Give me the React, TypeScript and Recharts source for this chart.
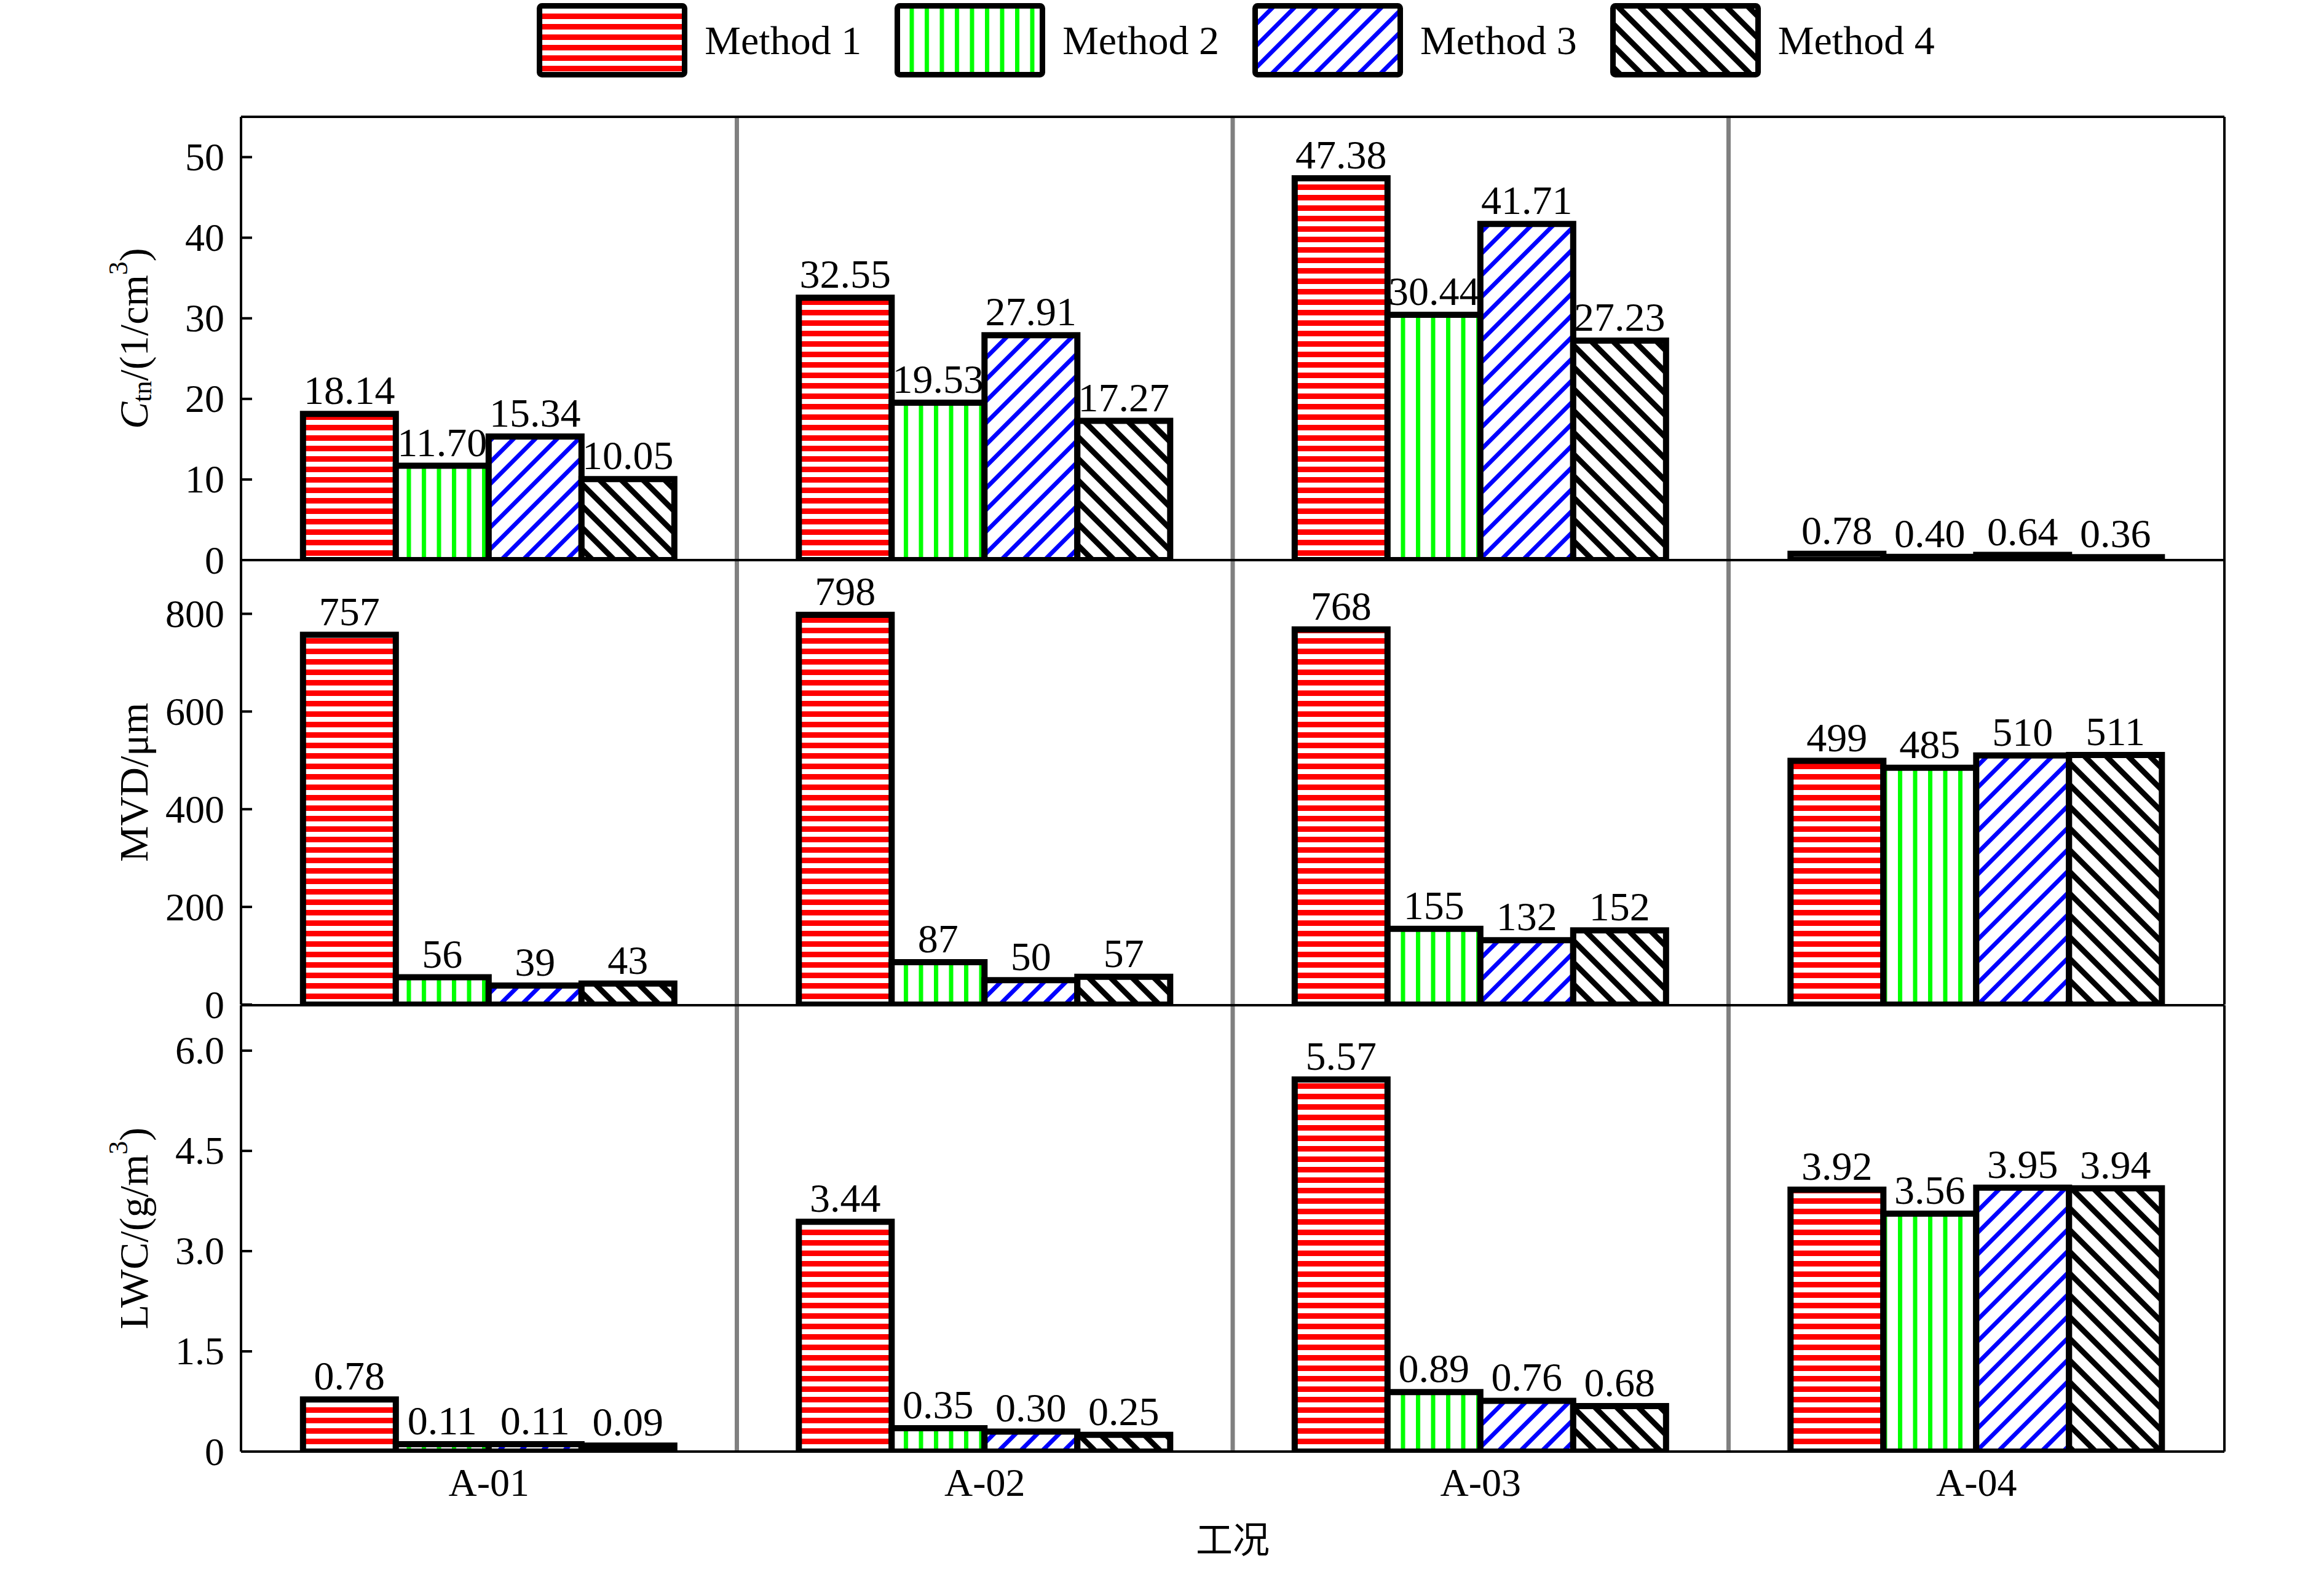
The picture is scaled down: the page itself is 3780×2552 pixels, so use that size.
import React from "react";
import { BarChart, Bar, XAxis, YAxis, CartesianGrid, LabelList, ReferenceLine } from "recharts";

const categories = ["A-01", "A-02", "A-03", "A-04"];
const methodNames = ["Method 1", "Method 2", "Method 3", "Method 4"];

// C_tn (1/cm^3)
const ctnMethod1 = [18.14, 32.55, 47.38, 0.78];
const ctnMethod2 = [11.7, 19.53, 30.44, 0.4];
const ctnMethod3 = [15.34, 27.91, 41.71, 0.64];
const ctnMethod4 = [10.05, 17.27, 27.23, 0.36];

// MVD (um)
const mvdMethod1 = [757, 798, 768, 499];
const mvdMethod2 = [56, 87, 155, 485];
const mvdMethod3 = [39, 50, 132, 510];
const mvdMethod4 = [43, 57, 152, 511];

// LWC (g/m^3)
const lwcMethod1 = [0.78, 3.44, 5.57, 3.92];
const lwcMethod2 = [0.11, 0.35, 0.89, 3.56];
const lwcMethod3 = [0.11, 0.3, 0.76, 3.95];
const lwcMethod4 = [0.09, 0.25, 0.68, 3.94];

const ctnTicks = [0, 10, 20, 30, 40, 50];
const mvdTicks = [0, 200, 400, 600, 800];
const lwcTicks = [0, 1.5, 3.0, 4.5, 6.0];

const W = 3780;
const H = 2552;
const PLOT_LEFT = 392;
const PLOT_RIGHT = 3618;
const PAD = 60;
const SERIF = '"Liberation Serif", "Times New Roman", serif';

const keys = ["m1", "m2", "m3", "m4"];
const patternIds = ["pat-m1", "pat-m2", "pat-m3", "pat-m4"];

const buildRows = (series: number[][]) =>
  categories.map((name, i) => {
    const row: any = { name };
    series.forEach((s, k) => (row[keys[k]] = s[i]));
    return row;
  });

const ctnData = buildRows([ctnMethod1, ctnMethod2, ctnMethod3, ctnMethod4]);
const mvdData = buildRows([mvdMethod1, mvdMethod2, mvdMethod3, mvdMethod4]);
const lwcData = buildRows([lwcMethod1, lwcMethod2, lwcMethod3, lwcMethod4]);

const Patterns = () => (
  <svg width={0} height={0} style={{ position: "absolute" }}>
    <defs>
      <pattern id="pat-m1" patternUnits="userSpaceOnUse" width={20} height={17}>
        <rect width={20} height={17} fill="#fff" />
        <rect y={0} width={20} height={9} fill="#ff0000" />
      </pattern>
      <pattern id="pat-m2" patternUnits="userSpaceOnUse" width={24.5} height={20}>
        <rect width={24.5} height={20} fill="#fff" />
        <rect x={0} width={7} height={20} fill="#00ff00" />
      </pattern>
      <pattern id="pat-m3" patternUnits="userSpaceOnUse" width={25} height={25} patternTransform="rotate(45)">
        <rect width={25} height={25} fill="#fff" />
        <rect width={7} height={25} fill="#0000ff" />
      </pattern>
      <pattern id="pat-m4" patternUnits="userSpaceOnUse" width={25} height={25} patternTransform="rotate(-45)">
        <rect width={25} height={25} fill="#fff" />
        <rect width={9} height={25} fill="#000" />
      </pattern>
    </defs>
  </svg>
);

const makeTick = (fmt: (v: number) => string) => (props: any) => {
  const { y, payload } = props;
  return (
    <g>
      <line x1={PLOT_LEFT} x2={PLOT_LEFT + 18} y1={y} y2={y} stroke="#000" strokeWidth={4} />
      <text
        x={PLOT_LEFT - 27}
        y={y}
        textAnchor="end"
        dominantBaseline="central"
        style={{ fontFamily: SERIF, fontSize: 64 }}
        fill="#000"
      >
        {fmt(payload.value)}
      </text>
    </g>
  );
};

const YTitle = (props: any) => {
  const { viewBox, kind } = props;
  const cy = viewBox.y + viewBox.height / 2;
  const cx = 217;
  return (
    <text
      transform={`translate(${cx},${cy}) rotate(-90)`}
      textAnchor="middle"
      dominantBaseline="central"
      style={{ fontFamily: SERIF, fontSize: 66 }}
      fill="#000"
    >
      {kind === "ctn" && (
        <>
          <tspan fontStyle="italic">C</tspan>
          <tspan fontSize={44} dy={14}>tn</tspan>
          <tspan dy={-14}>/(1/cm</tspan>
          <tspan fontSize={44} dy={-25}>3</tspan>
          <tspan dy={25}>)</tspan>
        </>
      )}
      {kind === "mvd" && "MVD/μm"}
      {kind === "lwc" && (
        <>
          <tspan>LWC/(g/m</tspan>
          <tspan fontSize={44} dy={-25}>3</tspan>
          <tspan dy={25}>)</tspan>
        </>
      )}
    </text>
  );
};

const XTitle = (props: any) => {
  const { viewBox } = props;
  return (
    <text
      x={viewBox.x + viewBox.width / 2}
      y={viewBox.y + 138}
      textAnchor="middle"
      dominantBaseline="central"
      style={{ fontFamily: '"Noto Sans CJK SC", sans-serif', fontSize: 60 }}
      fill="#000"
    >
      工况
    </text>
  );
};

const separators = ({ offset }: any) =>
  [1, 2, 3].map((i) => offset.left + (i * offset.width) / categories.length);

type PanelProps = {
  data: any[];
  top: number;
  plotHeight: number;
  domain: [number, number];
  ticks: number[];
  tickFmt: (v: number) => string;
  labelFmt: (v: number) => string;
  kind: string;
  bottom?: boolean;
};

const Panel = ({ data, top, plotHeight, domain, ticks, tickFmt, labelFmt, kind, bottom }: PanelProps) => {
  const axisH = bottom ? 190 : 0;
  const height = PAD + plotHeight + axisH + (bottom ? 0 : PAD);
  return (
    <div style={{ position: "absolute", left: 0, top: top - PAD, width: W, height }}>
      <BarChart
        width={W}
        height={height}
        data={data}
        margin={{ top: PAD, right: W - PLOT_RIGHT, bottom: bottom ? 0 : PAD, left: 0 }}
        barGap={0}
        barCategoryGap="12.5%"
      >
        <CartesianGrid
          horizontal={false}
          stroke="#808080"
          strokeWidth={7}
          verticalCoordinatesGenerator={separators}
        />
        <XAxis
          dataKey="name"
          height={axisH}
          axisLine={{ stroke: "#000", strokeWidth: 4 }}
          tickLine={false}
          tickSize={0}
          tickMargin={27}
          tick={bottom ? { fontFamily: SERIF, fontSize: 64, fill: "#000" } : false}
          label={bottom ? <XTitle /> : undefined}
        />
        <YAxis
          width={PLOT_LEFT}
          type="number"
          domain={domain}
          ticks={ticks}
          allowDataOverflow
          interval={0}
          tickSize={0}
          tickMargin={0}
          tickLine={false}
          axisLine={{ stroke: "#000", strokeWidth: 4 }}
          tick={makeTick(tickFmt)}
          label={<YTitle kind={kind} />}
        />
        <ReferenceLine y={domain[1]} stroke="#000" strokeWidth={4} ifOverflow="extendDomain" />
        <ReferenceLine x={categories[categories.length - 1]} position="end" stroke="#000" strokeWidth={4} />
        {keys.map((k, i) => (
          <Bar
            key={k}
            dataKey={k}
            name={methodNames[i]}
            fill={`url(#${patternIds[i]})`}
            stroke="#000"
            strokeWidth={10}
            isAnimationActive={false}
          >
            <LabelList
              dataKey={k}
              position="top"
              offset={16}
              formatter={(v: any) => labelFmt(Number(v))}
              fontFamily={SERIF}
              fontSize={66}
              fill="#000"
            />
          </Bar>
        ))}
      </BarChart>
    </div>
  );
};

const Legend = () => (
  <div
    style={{
      position: "absolute",
      top: 5,
      left: 0,
      width: W,
      display: "flex",
      justifyContent: "center",
      paddingLeft: 240,
      boxSizing: "border-box",
    }}
  >
    {methodNames.map((m, i) => (
      <div key={m} style={{ display: "flex", alignItems: "center", marginRight: i < 3 ? 54 : 0 }}>
        <svg width={245} height={121}>
          <rect
            x={4.5}
            y={4.5}
            width={236}
            height={112}
            rx={4}
            fill={`url(#${patternIds[i]})`}
            stroke="#000"
            strokeWidth={9}
          />
        </svg>
        <span style={{ fontFamily: SERIF, fontSize: 66, marginLeft: 28, color: "#000", lineHeight: 1 }}>{m}</span>
      </div>
    ))}
  </div>
);

export default function App() {
  return (
    <div style={{ position: "absolute", left: 0, top: 0, width: W, height: H, background: "#fff", overflow: "hidden" }}>
      <Patterns />
      <Legend />
      <Panel
        data={ctnData}
        top={190}
        plotHeight={721}
        domain={[0, 55]}
        ticks={ctnTicks}
        tickFmt={(v) => String(v)}
        labelFmt={(v) => v.toFixed(2)}
        kind="ctn"
      />
      <Panel
        data={mvdData}
        top={911}
        plotHeight={723}
        domain={[0, 910]}
        ticks={mvdTicks}
        tickFmt={(v) => String(v)}
        labelFmt={(v) => v.toFixed(0)}
        kind="mvd"
      />
      <Panel
        data={lwcData}
        top={1635}
        plotHeight={726}
        domain={[0, 6.68]}
        ticks={lwcTicks}
        tickFmt={(v) => (v === 0 ? "0" : v.toFixed(1))}
        labelFmt={(v) => v.toFixed(2)}
        kind="lwc"
        bottom
      />
    </div>
  );
}
